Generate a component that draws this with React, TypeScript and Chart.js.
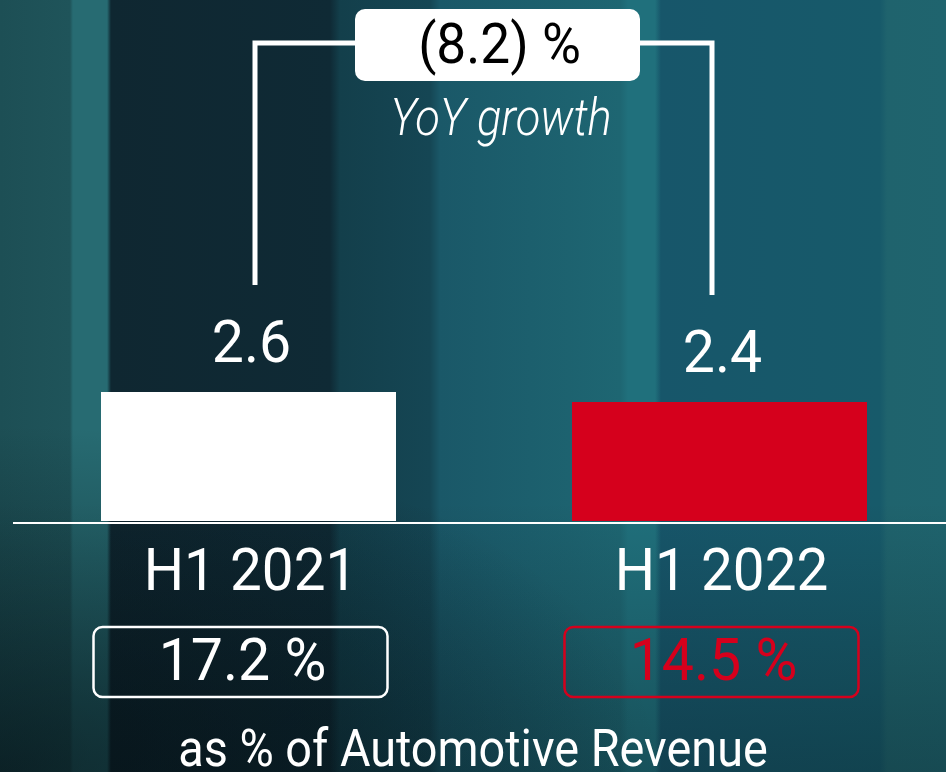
import React, { useEffect, useRef } from "react";
import { Chart, registerables } from "chart.js";

Chart.register(...registerables);

// ---- data ----
const categories = ["H1 2021", "H1 2022"];
const values = [2.6, 2.4];
const shares = ["17.2 %", "14.5 %"];
const growthLabel = "(8.2) %";
const growthCaption = "YoY growth";
const footnote = "as % of Automotive Revenue";
const barColors = ["#ffffff", "#d5001c"];
const shareColors = ["#ffffff", "#d5001c"];

const FONT = "Roboto, 'Liberation Sans', sans-serif";
const W = 400;

function drawText(
  ctx: CanvasRenderingContext2D,
  text: string,
  x: number,
  y: number,
  font: string,
  color: string,
  sx = 1
) {
  ctx.save();
  ctx.font = font;
  ctx.fillStyle = color;
  ctx.textAlign = "center";
  ctx.textBaseline = "alphabetic";
  ctx.translate(x, y);
  ctx.scale(sx, 1);
  ctx.fillText(text, 0, 0);
  ctx.restore();
}

function rrect(ctx: CanvasRenderingContext2D, x: number, y: number, w: number, h: number, r: number) {
  ctx.beginPath();
  ctx.moveTo(x + r, y);
  ctx.lineTo(x + w - r, y);
  ctx.arcTo(x + w, y, x + w, y + r, r);
  ctx.lineTo(x + w, y + h - r);
  ctx.arcTo(x + w, y + h, x + w - r, y + h, r);
  ctx.lineTo(x + r, y + h);
  ctx.arcTo(x, y + h, x, y + h - r, r);
  ctx.lineTo(x, y + r);
  ctx.arcTo(x, y, x + r, y, r);
  ctx.closePath();
}

const overlayPlugin = {
  id: "overlayPlugin",
  afterDatasetsDraw(chart: any) {
    const ctx: CanvasRenderingContext2D = chart.ctx;
    const area = chart.chartArea;
    const bars = chart.getDatasetMeta(0).data;
    const base = area.bottom;

    ctx.save();
    // baseline
    ctx.strokeStyle = "#ffffff";
    ctx.lineWidth = 2;
    ctx.beginPath();
    ctx.moveTo(area.left, base + 2);
    ctx.lineTo(area.right, base + 2);
    ctx.stroke();

    // bracket
    const lx = bars[0].x + 6.5;
    const rx = bars[1].x - 7.5;
    const ty = 43;
    ctx.lineWidth = 5;
    ctx.lineJoin = "miter";
    ctx.beginPath();
    ctx.moveTo(lx, bars[0].y - 107);
    ctx.lineTo(lx, ty);
    ctx.lineTo(rx, ty);
    ctx.lineTo(rx, bars[1].y - 107);
    ctx.stroke();

    // growth box
    const gcx = (lx + rx) / 2 + 14;
    ctx.fillStyle = "#ffffff";
    rrect(ctx, gcx - 142.5, 9, 285, 72, 10);
    ctx.fill();
    drawText(ctx, growthLabel, gcx + 2, 63, `${W} 56px ${FONT}`, "#000000", 0.95);
    drawText(ctx, growthCaption, gcx + 3.5, 135, `italic 300 52px ${FONT}`, "#ffffff", 0.87);

    // per bar labels
    bars.forEach((bar: any, i: number) => {
      drawText(ctx, values[i].toFixed(1), bar.x + 3, bar.y - 30, `${W} 59px ${FONT}`, "#ffffff", 0.97);
      drawText(ctx, categories[i], bar.x + 2, base + 69, `${W} 59px ${FONT}`, "#ffffff", 0.96);
      const cx = bar.x - 8;
      ctx.strokeStyle = shareColors[i];
      ctx.lineWidth = 2.5;
      rrect(ctx, cx - 147, base + 106, 294, 70, 9);
      ctx.stroke();
      drawText(ctx, shares[i], cx + 2, base + 159, `${W} 59px ${FONT}`, shareColors[i], 0.97);
    });

    drawText(ctx, footnote, 473, 766, `${W} 52px ${FONT}`, "#ffffff", 0.9);
    ctx.restore();
  },
};

const background = [
  "radial-gradient(ellipse 70% 45% at 0% 100%, rgba(3,12,16,0.55), rgba(3,12,16,0) 100%)",
  "linear-gradient(to bottom, rgba(4,14,18,0) 0%, rgba(4,14,18,0) 65%, rgba(4,14,18,0.3) 100%)",
  "linear-gradient(to right, #1d4f55 0px, #1f545a 70px, #276b72 73px, #276b72 107px, #0f2731 111px, #0f2a35 330px, #133f4b 340px, #154654 430px, #1a5868 440px, #1e6672 620px, #20707c 628px, #20707c 655px, #17566a 661px, #175a6a 880px, #1f636d 887px, #1f646e 946px)",
].join(", ");

export default function App() {
  const canvasRef = useRef<HTMLCanvasElement | null>(null);

  useEffect(() => {
    if (!canvasRef.current) return;
    const chart = new Chart(canvasRef.current, {
      type: "bar",
      data: {
        labels: categories,
        datasets: [
          {
            data: values,
            backgroundColor: barColors,
            borderWidth: 0,
            barPercentage: 295 / 471,
            categoryPercentage: 1,
          },
        ],
      },
      options: {
        responsive: false,
        animation: false,
        devicePixelRatio: 1,
        layout: { padding: { left: 13, right: 1, top: 25, bottom: 251 } },
        plugins: {
          legend: { display: false },
          tooltip: { enabled: false },
          title: { display: false },
        },
        scales: {
          x: { display: false },
          y: { display: false, min: 0, max: 10 },
        },
      },
      plugins: [overlayPlugin],
    });
    return () => chart.destroy();
  }, []);

  return (
    <div
      style={{
        position: "fixed",
        left: 0,
        top: 0,
        width: 946,
        height: 772,
        overflow: "hidden",
        background,
      }}
    >
      <canvas ref={canvasRef} width={956} height={772} style={{ display: "block", width: 956, height: 772 }} />
    </div>
  );
}
